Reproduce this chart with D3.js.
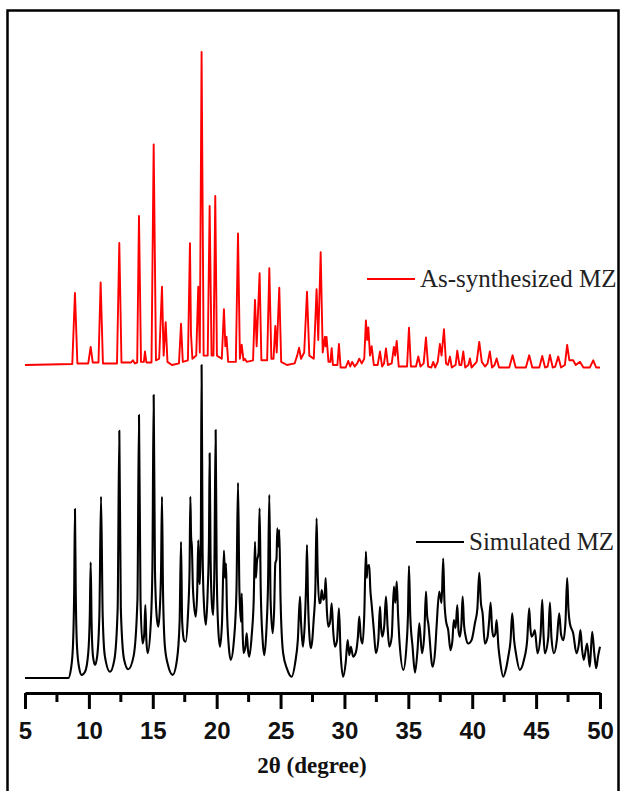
<!DOCTYPE html>
<html>
<head>
<meta charset="utf-8">
<script src="https://cdn.jsdelivr.net/npm/d3@7"></script>
<style>
  body { margin: 0; background: #fff; }
</style>
</head>
<body>
<div id="chart"></div>
<script>
// series names (legend)
const seriesNames = ["As-synthesized MZ", "Simulated MZ"];

// x axis ticks (2theta, degree)
const majorTicks = [5, 10, 15, 20, 25, 30, 35, 40, 45, 50];
const minorTicks = [7.5, 12.5, 17.5, 22.5, 27.5, 32.5, 37.5, 42.5, 47.5];

// red pattern, [2theta, relative intensity]
const asSynth = [
  [5, 0], [8.7, 0.3], [8.91, 23], [9.1, 0.5], [9.95, 0.5], [10.14, 5.8], [10.3, 0.8], [10.75, 0.8],
  [10.92, 26.4], [11.1, 0.5], [12.2, 0.5], [12.38, 39], [12.55, 0.8], [13.3, 0.8], [13.45, 1.5],
  [13.6, 0.5], [13.78, 0.8], [13.92, 47.6], [14.08, 1], [14.3, 1], [14.39, 4.3], [14.5, 0.8],
  [14.9, 0.8], [15.07, 70.5], [15.25, 1.5], [15.5, 2], [15.72, 25], [15.85, 3], [16.01, 13.7],
  [16.15, 1], [16.5, 0], [17.05, 0.5], [17.21, 13.2], [17.35, 1], [17.75, 1.5], [17.91, 38.9],
  [17.99, 10], [18.1, 2], [18.4, 3], [18.56, 25], [18.68, 4], [18.82, 100], [18.98, 3], [19.3, 3],
  [19.45, 50.8], [19.6, 3], [19.75, 3], [19.89, 54], [20.02, 3], [20.4, 2], [20.57, 17.8], [20.68, 6],
  [20.77, 9], [20.9, 1], [21.5, 1], [21.67, 42], [21.82, 2], [21.96, 6.5], [22.1, 1.5], [22.2, 2],
  [22.35, 1], [22.85, 1.5], [23.0, 20.8], [23.13, 6], [23.36, 29.3], [23.5, 1.5], [23.95, 1.5],
  [24.12, 30.9], [24.28, 2], [24.45, 2], [24.59, 12.5], [24.7, 4], [24.9, 24.7], [25.05, 1], [25.5, 0],
  [26.1, 0.5], [26.3, 3], [26.45, 5.5], [26.6, 2], [26.85, 4], [27.07, 23.4], [27.25, 3], [27.6, 2],
  [27.82, 24.2], [27.95, 8], [28.14, 36], [28.3, 4], [28.47, 9], [28.53, 6], [28.6, 9], [28.75, 1],
  [28.9, 1], [29.0, 5.4], [29.1, 0], [29.45, 0], [29.57, 6.7], [29.7, -0.8], [30.1, -0.8], [30.3, 1.3],
  [30.45, -0.5], [30.6, 1], [30.8, -0.5], [31.0, 0.5], [31.16, 2], [31.35, 0.5], [31.55, 2],
  [31.68, 14.2], [31.78, 8], [31.87, 12], [32.0, 3], [32.13, 6], [32.3, 0], [32.6, 0], [32.78, 4.3],
  [32.95, -0.5], [33.1, 0.5], [33.25, 5.3], [33.4, 0], [33.7, 0.5], [33.87, 5.8], [33.97, 3],
  [34.09, 7.7], [34.25, -0.5], [34.9, -0.5], [35.05, 11.9], [35.2, -0.5], [35.6, -0.5], [35.78, 2.7],
  [35.95, -0.5], [36.2, 0.5], [36.38, 8.8], [36.55, -0.5], [36.8, -0.8], [36.95, 1], [37.1, -0.8],
  [37.3, 1], [37.47, 6.7], [37.6, 3], [37.79, 11.4], [37.95, 0.5], [38.1, 0], [38.26, 2.7], [38.4, -0.8],
  [38.7, 0], [38.83, 4.6], [39.0, 0], [39.15, 0], [39.3, 4.3], [39.45, -0.8], [39.7, 0], [39.82, 2.1],
  [39.95, -0.8], [40.35, 1], [40.55, 7.4], [40.75, 1], [41.0, -0.5], [41.2, 0.5], [41.38, 4.3],
  [41.55, -0.8], [41.75, 0], [41.91, 2.1], [42.1, -0.8], [42.9, -0.8], [43.16, 3.1], [43.4, -0.8],
  [44.2, -0.8], [44.46, 3.1], [44.7, -0.8], [45.25, -0.8], [45.48, 2.9], [45.7, -0.8], [45.9, -0.5],
  [46.08, 3.2], [46.3, -0.8], [46.5, -0.5], [46.73, 2.7], [46.95, -0.8], [47.25, 0], [47.43, 6.4],
  [47.6, 1.5], [47.9, 1.5], [48.1, 0], [48.43, 1], [48.7, -0.8], [49.2, -0.8], [49.47, 1.5],
  [49.7, -0.8], [50, -0.8]
];

// black pattern (simulated), [2theta, relative intensity]
const simulated = [
  [5, 0], [8.39, 0], [8.6, 3], [8.75, 10], [8.85, 28], [8.91, 54], [8.97, 28], [9.07, 10], [9.25, 3],
  [9.43, 1], [9.7, 2], [9.95, 8], [10.07, 20], [10.14, 37], [10.21, 18], [10.32, 7], [10.48, 4.2],
  [10.65, 7], [10.82, 20], [10.95, 58], [11.08, 20], [11.25, 7], [11.65, 2], [12.0, 6], [12.25, 22],
  [12.38, 79], [12.5, 22], [12.75, 6], [13.08, 2.8], [13.5, 7], [13.8, 25], [13.92, 84], [14.04, 25],
  [14.2, 11], [14.33, 14], [14.42, 23.3], [14.5, 12], [14.6, 7.9], [14.85, 18], [14.97, 35],
  [15.07, 90.4], [15.17, 35], [15.3, 20], [15.43, 16.4], [15.55, 22], [15.65, 35], [15.72, 58],
  [15.8, 28], [15.95, 10], [16.2, 4], [16.56, 1], [16.9, 6], [17.1, 18], [17.21, 43.5], [17.3, 18],
  [17.45, 12], [17.57, 11.6], [17.75, 20], [17.88, 35], [17.94, 58], [18.0, 45], [18.06, 42],
  [18.15, 28], [18.36, 19.6], [18.48, 28], [18.56, 44], [18.63, 32], [18.69, 30], [18.76, 45],
  [18.82, 100], [18.9, 40], [19.0, 24], [19.16, 17], [19.3, 28], [19.4, 45], [19.45, 71.8], [19.52, 40],
  [19.62, 24], [19.73, 20.1], [19.82, 35], [19.92, 79.2], [20.0, 35], [20.12, 16], [20.26, 10],
  [20.42, 18], [20.57, 40.7], [20.65, 32], [20.73, 36.6], [20.8, 22.8], [20.95, 10], [21.1, 5.8],
  [21.35, 12], [21.55, 28], [21.67, 62.4], [21.78, 28], [21.9, 18], [21.96, 27], [22.03, 15], [22.1, 8],
  [22.25, 10], [22.35, 14.3], [22.45, 9], [22.55, 6.8], [22.75, 14], [22.9, 25], [23.0, 43.5],
  [23.07, 32], [23.15, 37], [23.28, 40], [23.36, 54.2], [23.45, 28], [23.6, 12], [23.73, 7.3],
  [23.9, 16], [24.02, 30], [24.12, 58.5], [24.22, 25], [24.38, 14.3], [24.5, 22], [24.59, 36.6],
  [24.68, 38], [24.75, 47.8], [24.82, 42], [24.9, 47.3], [25.0, 25], [25.2, 8], [25.5, 3], [25.87, 0.4],
  [26.15, 5], [26.35, 12], [26.52, 26], [26.6, 18], [26.65, 14.4], [26.75, 10], [26.9, 18], [27.0, 30],
  [27.07, 42.5], [27.15, 25], [27.25, 14], [27.37, 9.5], [27.48, 12], [27.59, 18.5], [27.72, 28],
  [27.82, 51], [27.9, 35], [28.03, 23.9], [28.12, 24], [28.22, 28.1], [28.35, 25], [28.45, 26],
  [28.53, 31.9], [28.62, 22], [28.74, 16.4], [28.88, 18], [29.0, 23.9], [29.12, 15], [29.26, 10],
  [29.42, 12], [29.57, 22.3], [29.7, 8], [29.9, 0.4], [30.1, 5], [30.25, 12.1], [30.38, 7.3], [30.5, 10],
  [30.68, 6.8], [30.88, 8], [31.05, 13], [31.16, 19.6], [31.28, 13], [31.42, 11], [31.55, 20],
  [31.68, 40.4], [31.75, 32], [31.81, 35.6], [31.94, 36.1], [32.03, 28], [32.12, 23.9], [32.3, 15.3],
  [32.46, 7.9], [32.65, 12], [32.78, 22.8], [32.87, 16], [32.96, 13.2], [33.12, 17], [33.25, 26],
  [33.38, 16], [33.51, 10], [33.7, 13.2], [33.87, 29.2], [33.98, 24], [34.09, 30.8], [34.2, 20],
  [34.3, 12.1], [34.61, 2.6], [34.85, 10], [34.97, 20], [35.05, 35.8], [35.15, 20], [35.33, 10],
  [35.52, 1.7], [35.72, 9], [35.86, 17.5], [36.07, 7.9], [36.25, 14], [36.38, 27.6], [36.47, 20],
  [36.56, 17.5], [36.9, 3.6], [37.1, 9], [37.21, 16.4], [37.42, 27.6], [37.6, 24], [37.73, 38.2],
  [37.82, 25], [37.94, 18.5], [38.12, 15.3], [38.3, 8.9], [38.45, 12], [38.56, 18.5], [38.7, 16],
  [38.83, 23.3], [38.93, 15], [39.04, 13.2], [39.15, 17], [39.25, 26], [39.36, 17], [39.49, 13.2],
  [39.69, 11], [39.95, 12.1], [40.21, 17.5], [40.4, 22], [40.55, 33.6], [40.68, 24], [40.81, 20.7],
  [40.99, 11], [41.2, 13], [41.32, 18], [41.44, 24.1], [41.55, 16], [41.65, 13.2], [41.8, 14],
  [41.91, 18.5], [42.05, 10], [42.17, 5.8], [42.43, 0.4], [42.65, 3], [42.82, 6.8], [43.0, 12],
  [43.13, 20.7], [43.28, 12], [43.42, 7.9], [43.73, 2.6], [44.05, 5.8], [44.3, 12], [44.46, 22.3],
  [44.55, 16], [44.64, 13.2], [44.78, 14], [44.9, 15.3], [45.11, 7.9], [45.35, 14], [45.48, 25],
  [45.58, 14], [45.68, 7.9], [45.95, 13], [46.08, 24.1], [46.2, 13], [46.4, 7.9], [46.62, 12],
  [46.81, 20.7], [46.95, 14], [47.13, 12.1], [47.3, 18], [47.43, 31.9], [47.53, 22], [47.64, 17.5],
  [47.9, 14.3], [48.16, 7.9], [48.35, 11], [48.47, 15.3], [48.6, 9], [48.73, 5.8], [48.99, 11],
  [49.2, 3.6], [49.39, 14.8], [49.55, 8], [49.7, 3.1], [49.85, 7], [50, 10]
];

// vertical offset of the red pattern (stacked plot)
const redOffset = 100;

var svgWidth = 621,
    svgHeight = 791;

const svg = d3.select("#chart")
  .append("svg")
  .attr("width", svgWidth)
  .attr("height", svgHeight)
  .style("font-family", "'Liberation Serif', 'Times New Roman', serif");

svg.append("rect")
  .attr("width", svgWidth)
  .attr("height", svgHeight)
  .attr("fill", "#fff");

let xScale = d3.scaleLinear()
  .domain([5, 50])
  .range([25, 600]);

let yScale = d3.scaleLinear()
  .domain([0, 200])
  .range([678, 52]);

// black line (smooth-ish peaks)
const lineBlack = d3.line()
  .x(d => xScale(d[0]))
  .y(d => yScale(d[1]))
  .curve(d3.curveMonotoneX);

const lineRed = d3.line()
  .x(d => xScale(d[0]))
  .y(d => yScale(d[1] + redOffset));

svg.append("path")
  .datum(simulated)
  .attr("d", lineBlack)
  .attr("fill", "none")
  .attr("stroke", "#000")
  .attr("stroke-width", 2.1)
  .attr("stroke-linejoin", "round");

svg.append("path")
  .datum(asSynth)
  .attr("d", lineRed)
  .attr("fill", "none")
  .attr("stroke", "#f00")
  .attr("stroke-width", 1.9)
  .attr("stroke-linejoin", "round");

// x axis
const axisY = 693;
const xAxis = svg.append("g")
  .attr("transform", "translate(0," + axisY + ")")
  .call(d3.axisBottom(xScale)
    .tickValues(majorTicks)
    .tickFormat(d3.format("d"))
    .tickSize(16)
    .tickSizeOuter(0)
    .tickPadding(13));
xAxis.select(".domain").attr("stroke-width", 3);
xAxis.selectAll(".tick line").attr("stroke-width", 3);
xAxis.selectAll(".tick text")
  .style("font-family", "'Liberation Sans', Arial, sans-serif")
  .style("font-weight", "bold")
  .style("font-size", "24px")
  .attr("fill", "#111");

// minor ticks
svg.append("g")
  .selectAll("line")
  .data(minorTicks)
  .enter().append("line")
  .attr("x1", d => xScale(d))
  .attr("x2", d => xScale(d))
  .attr("y1", axisY)
  .attr("y2", axisY + 9)
  .attr("stroke", "#000")
  .attr("stroke-width", 3);

svg.append("text")
  .attr("x", 312)
  .attr("y", 773)
  .attr("text-anchor", "middle")
  .style("font-weight", "bold")
  .style("font-size", "23px")
  .attr("fill", "#111")
  .text("2θ (degree)");

// legend entries
const legend = [
  { name: seriesNames[0], color: "#f00", x: 367, y: 279 },
  { name: seriesNames[1], color: "#000", x: 416, y: 542 }
];
const lg = svg.append("g").selectAll("g")
  .data(legend)
  .enter().append("g")
  .attr("transform", d => "translate(" + d.x + "," + d.y + ")");
lg.append("line")
  .attr("x1", 0).attr("x2", 48)
  .attr("stroke", d => d.color)
  .attr("stroke-width", 2);
lg.append("text")
  .attr("x", 53)
  .attr("y", 8)
  .style("font-size", "25px")
  .attr("fill", "#222")
  .text(d => d.name);

// outer frame
svg.append("rect")
  .attr("x", 7.5)
  .attr("y", 10.5)
  .attr("width", 611)
  .attr("height", 800)
  .attr("fill", "none")
  .attr("stroke", "#000")
  .attr("stroke-width", 2.5);
</script>
</body>
</html>
